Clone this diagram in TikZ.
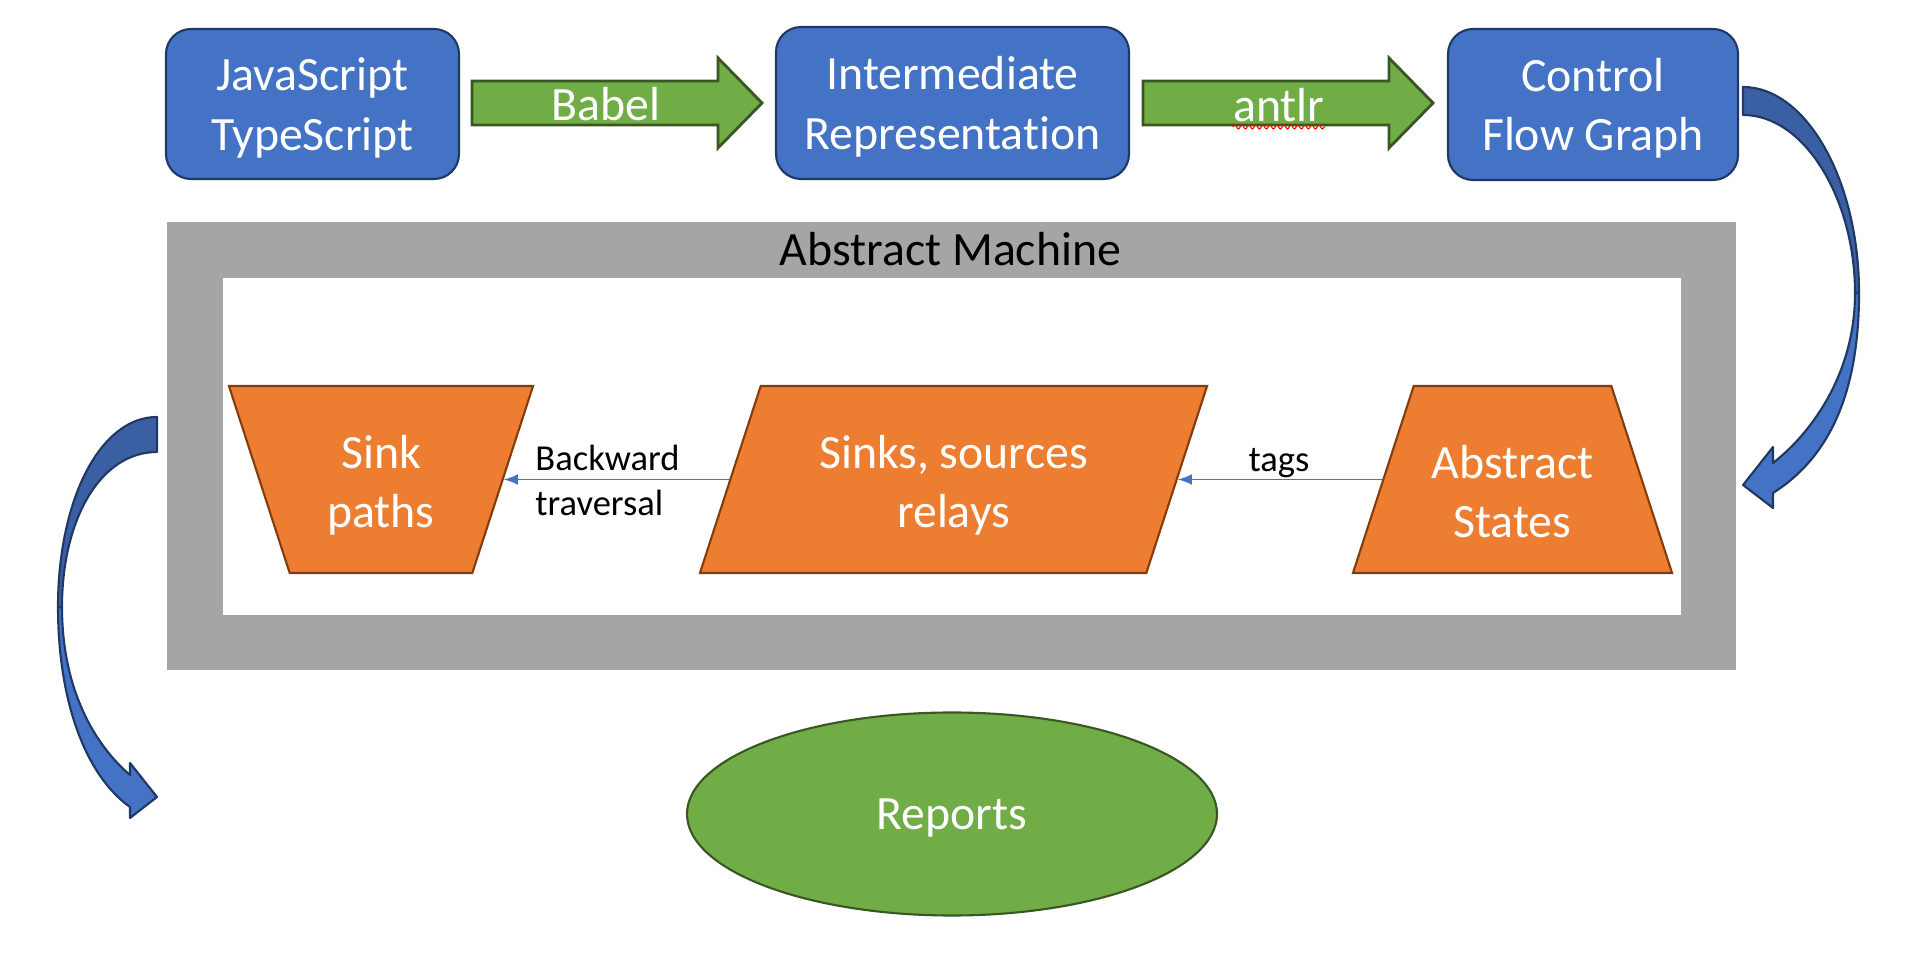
\documentclass[tikz,border=0pt]{standalone}
\usepackage{fontspec}
\setmainfont{Carlito}[Ligatures=NoCommon]
\usetikzlibrary{shapes.geometric,decorations.pathmorphing}

\definecolor{boxblue}{HTML}{4472C4}
\definecolor{boxline}{HTML}{1F3864}
\definecolor{bendblue}{HTML}{3A5FA2}
\definecolor{arrowgreen}{HTML}{70AD47}
\definecolor{greenline}{HTML}{385723}
\definecolor{shapeorange}{HTML}{ED7D31}
\definecolor{orangeline}{HTML}{843C0C}
\definecolor{framegray}{HTML}{A5A5A5}

\newcommand{\bigtext}{\fontsize{13.6}{16.9}\selectfont}
\newcommand{\smalltext}{\fontsize{10.4}{12.8}\selectfont}

\begin{document}
\begin{tikzpicture}[x=1mm, y=-1mm,
	every node/.style={align=center, font=\bigtext},
	box/.style={rectangle, rounded corners=2.5mm, draw=boxline, line width=0.6pt, fill=boxblue, text=white, text depth=0pt},
	garrow/.style={fill=arrowgreen, draw=greenline, line width=0.8pt},
	tshape/.style={trapezium, inner ysep=9.35mm, draw=orangeline, line width=0.6pt, fill=shapeorange},
	inlabel/.style={text=white},
	bendarrow/.style={draw=boxline, line width=0.6pt, line join=round},
	flow/.style={draw=boxblue, line width=0.4pt, -latex}]
	\useasboundingbox (0,0) rectangle (191,96);

	% top row
	\node[box, minimum width=29.3mm, minimum height=15mm] (source) at (31.25,10.4) {JavaScript\\TypeScript};
	\node[box, minimum width=35.3mm, minimum height=15.2mm] (ir) at (95.25,10.3) {Intermediate\\Representation};
	\node[box, minimum width=29mm, minimum height=15.1mm] (cfg) at (159.3,10.45) {Control\\Flow Graph};

	\draw[garrow] (47.2,8.1) -- (71.8,8.1) -- (71.8,5.8) -- (76.2,10.3) -- (71.8,14.8) -- (71.8,12.5) -- (47.2,12.5) -- cycle;
	\draw[garrow] (114.3,8.1) -- (138.9,8.1) -- (138.9,5.8) -- (143.3,10.3) -- (138.9,14.8) -- (138.9,12.5) -- (114.3,12.5) -- cycle;
	\node[text=white] (babel) at (60.6,10.45) {Babel};
	\node[text=white, inner sep=0pt] (antlr) at (127.9,10.55) {antlr};
	\draw[red, line width=0.3pt, decorate, decoration={snake, amplitude=0.2mm, segment length=0.7mm}]
		([yshift=-0.5mm]antlr.base west) -- ([yshift=-0.5mm]antlr.base east);

	% abstract machine frame
	\fill[framegray] (16.65,22.2) rectangle (173.6,67.0);
	\fill[white] (22.3,27.8) rectangle (168.1,61.5);
	\node (machine) at (95.05,24.95) {Abstract Machine};

	\node[tshape, trapezium left angle=108, trapezium right angle=108, inner xsep=9.13mm,
		label={[inlabel, yshift=-0.55mm]center:Sink\\paths}] (sinkpaths) at (38.1,47.95) {};
	\node[tshape, trapezium left angle=72, trapezium right angle=108, inner xsep=19.28mm,
		label={[inlabel, yshift=-0.6mm]center:Sinks, sources\\relays}] (sinks) at (95.35,47.95) {};
	\node[tshape, trapezium left angle=72, trapezium right angle=72, inner xsep=9.88mm,
		label={[inlabel, yshift=-1.2mm]center:Abstract\\States}] (absstates) at (151.25,47.95) {};

	\draw[flow] (absstates) -- (sinks);
	\draw[flow] (sinks) -- (sinkpaths);
	\node[font=\smalltext, align=left, anchor=west] (backward) at (52.3,48.0) {Backward\\traversal};
	\node[font=\smalltext] (tags) at (127.9,46.3) {tags};

	% output
	\node[ellipse, draw=greenline, line width=0.6pt, fill=arrowgreen, text=white, text depth=0pt, minimum width=53mm, minimum height=20.3mm] (reports) at (95.2,81.4) {Reports};

	% curved arrow on the right
	\path[bendarrow, fill=bendblue] (174.3,8.7) .. controls (180.6,8.7) and (185.9,18) .. (185.9,29.3)
		-- (185.5,29.3) .. controls (185.5,20) and (180.5,11.5) .. (174.3,11.5) -- cycle;
	\path[bendarrow, fill=boxblue] (185.9,29.3) .. controls (185.9,40) and (182.5,46) .. (177.3,49.3)
		-- (177.3,50.8) -- (174.3,48.5) -- (177.3,44.7) -- (177.3,46.3)
		.. controls (181.5,43) and (185.5,37) .. (185.5,29.3) -- cycle;

	% curved arrow on the left
	\path[bendarrow, fill=bendblue] (15.7,41.7) .. controls (10,41.7) and (5.8,50) .. (5.8,60.7)
		-- (6.2,60.7) .. controls (6.2,52) and (10,45.2) .. (15.7,45.2) -- cycle;
	\path[bendarrow, fill=boxblue] (5.8,60.7) .. controls (5.8,70) and (8.5,77.5) .. (13,80.7)
		-- (13,81.8) -- (15.7,79.7) -- (13,76.3) -- (13,77.5)
		.. controls (9.5,74.5) and (6.2,69) .. (6.2,60.7) -- cycle;
\end{tikzpicture}
\end{document}
